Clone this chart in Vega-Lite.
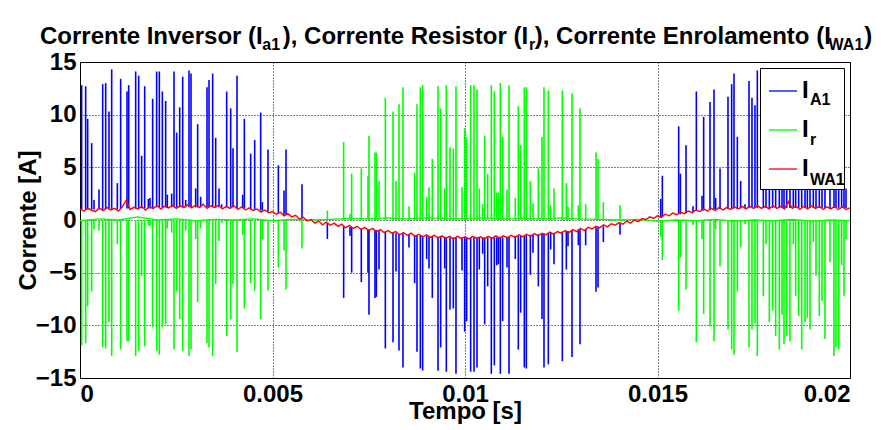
{
"$schema": "https://vega.github.io/schema/vega-lite/v6.json",
"width": 770, "height": 316,
"autosize": "none",
"padding": {"left": 80, "top": 62, "right": 36, "bottom": 52},
"background": "white",
"config": {
  "font": "Liberation Sans",
  "view": {"stroke": "#000", "strokeWidth": 1},
  "axis": {"labelFont": "Liberation Sans", "labelFontSize": 24, "labelFontWeight": "bold", "labelColor": "#000", "titleFont": "Liberation Sans", "titleFontSize": 24, "titleFontWeight": "bold", "titleColor": "#000", "domain": false, "ticks": false, "grid": true, "gridColor": "#000", "gridDash": [1, 2], "gridOpacity": 1}
},
"title": {
  "text": "Corrente Inversor (I\u00a0\u00a0\u00a0), Corrente Resistor (I\u00a0), Corrente Enrolamento (I\u00a0\u00a0\u00a0\u00a0\u00a0)",
  "subtitle": "\u200b\u00a0\u00a0\u00a0\u00a0\u00a0\u00a0\u00a0\u00a0\u00a0\u00a0\u00a0\u00a0\u00a0\u00a0\u00a0\u00a0\u00a0\u00a0\u00a0\u00a0\u00a0\u00a0\u00a0\u00a0\u00a0\u00a0\u00a0\u00a0\u00a0\u00a0\u00a0\u00a0\u00a0\u00a0\u00a0\u00a0\u00a0\u00a0\u00a0\u00a0\u00a0\u00a0\u00a0\u00a0\u00a0\u00a0\u00a0\u00a0\u00a0\u00a0a1\u00a0\u00a0\u00a0\u00a0\u00a0\u00a0\u00a0\u00a0\u00a0\u00a0\u00a0\u00a0\u00a0\u00a0\u00a0\u00a0\u00a0\u00a0\u00a0\u00a0\u00a0\u00a0\u00a0\u00a0\u00a0\u00a0\u00a0\u00a0\u00a0\u00a0\u00a0\u00a0\u00a0\u00a0\u00a0\u00a0\u00a0\u00a0\u00a0\u00a0\u00a0\u00a0\u00a0\u00a0\u00a0\u00a0\u00a0\u00a0\u00a0\u00a0\u00a0\u00a0\u00a0\u00a0\u00a0\u00a0r\u00a0\u00a0\u00a0\u00a0\u00a0\u00a0\u00a0\u00a0\u00a0\u00a0\u00a0\u00a0\u00a0\u00a0\u00a0\u00a0\u00a0\u00a0\u00a0\u00a0\u00a0\u00a0\u00a0\u00a0\u00a0\u00a0\u00a0\u00a0\u00a0\u00a0\u00a0\u00a0\u00a0\u00a0\u00a0\u00a0\u00a0\u00a0\u00a0\u00a0\u00a0\u00a0\u00a0\u00a0\u00a0\u00a0\u00a0\u00a0\u00a0\u00a0\u00a0\u00a0\u00a0\u00a0\u00a0\u00a0\u00a0\u00a0\u00a0\u00a0\u00a0\u00a0\u00a0\u00a0\u00a0\u00a0WA1",
  "anchor": "start", "frame": "group", "dx": -40, "offset": -3,
  "font": "Liberation Sans", "fontSize": 24, "fontWeight": "bold", "color": "#000",
  "subtitleFont": "Liberation Sans", "subtitleFontSize": 16, "subtitleFontWeight": "bold", "subtitleColor": "#000",
  "subtitlePadding": -12
},
"datasets": {
"spk": [
{"t":0.000043,"s":"A1","v":12.8,"b":1.0},{"t":0.000147,"s":"A1","v":12.7,"b":1.0},{"t":0.000199,"s":"A1","v":9.6,"b":1.0},{"t":0.000303,"s":"A1","v":7.3,"b":1.0},{"t":0.000364,"s":"A1","v":1.9,"b":1.0},{"t":0.000494,"s":"A1","v":2.9,"b":1.0},{"t":0.000589,"s":"A1","v":12.9,"b":1.0},{"t":0.000667,"s":"A1","v":13.0,"b":1.0},{"t":0.000753,"s":"A1","v":10.3,"b":1.0},{"t":0.000823,"s":"A1","v":14.3,"b":1.0},{"t":0.000970,"s":"A1","v":3.5,"b":1.0},{"t":0.001056,"s":"A1","v":13.4,"b":1.1},{"t":0.001221,"s":"A1","v":12.2,"b":1.1},{"t":0.001264,"s":"A1","v":12.8,"b":1.1},{"t":0.001446,"s":"A1","v":14.1,"b":1.1},{"t":0.001524,"s":"A1","v":13.7,"b":1.1},{"t":0.001602,"s":"A1","v":6.1,"b":1.1},{"t":0.001680,"s":"A1","v":12.7,"b":1.1},{"t":0.001775,"s":"A1","v":2.0,"b":1.1},{"t":0.001818,"s":"A1","v":2.1,"b":1.1},{"t":0.001887,"s":"A1","v":11.5,"b":1.1},{"t":0.001991,"s":"A1","v":14.1,"b":1.2},{"t":0.002061,"s":"A1","v":14.1,"b":1.2},{"t":0.002139,"s":"A1","v":12.2,"b":1.2},{"t":0.002225,"s":"A1","v":11.3,"b":1.2},{"t":0.002268,"s":"A1","v":2.4,"b":1.2},{"t":0.002381,"s":"A1","v":2.5,"b":1.2},{"t":0.002442,"s":"A1","v":14.1,"b":1.2},{"t":0.002511,"s":"A1","v":8.3,"b":1.2},{"t":0.002589,"s":"A1","v":10.7,"b":1.2},{"t":0.002667,"s":"A1","v":13.6,"b":1.2},{"t":0.002745,"s":"A1","v":1.9,"b":1.2},{"t":0.002831,"s":"A1","v":14.2,"b":1.2},{"t":0.002883,"s":"A1","v":13.9,"b":1.2},{"t":0.003004,"s":"A1","v":3.0,"b":1.2},{"t":0.003056,"s":"A1","v":9.1,"b":1.2},{"t":0.003134,"s":"A1","v":2.2,"b":1.2},{"t":0.003299,"s":"A1","v":12.6,"b":1.2},{"t":0.003351,"s":"A1","v":13.3,"b":1.2},{"t":0.003446,"s":"A1","v":13.9,"b":1.2},{"t":0.003524,"s":"A1","v":7.8,"b":1.2},{"t":0.003611,"s":"A1","v":3.0,"b":1.2},{"t":0.003680,"s":"A1","v":1.5,"b":1.2},{"t":0.003810,"s":"A1","v":12.2,"b":1.2},{"t":0.003914,"s":"A1","v":10.6,"b":1.2},{"t":0.003974,"s":"A1","v":6.8,"b":1.2},{"t":0.004078,"s":"A1","v":13.7,"b":1.1},{"t":0.004225,"s":"A1","v":2.4,"b":1.1},{"t":0.004269,"s":"A1","v":9.6,"b":1.1},{"t":0.004433,"s":"A1","v":6.3,"b":1.0},{"t":0.004537,"s":"A1","v":7.6,"b":1.0},{"t":0.004693,"s":"A1","v":10.2,"b":0.9},{"t":0.004736,"s":"A1","v":1.7,"b":0.9},{"t":0.004883,"s":"A1","v":6.7,"b":0.8},{"t":0.005152,"s":"A1","v":5.2,"b":0.6},{"t":0.005299,"s":"A1","v":2.8,"b":0.5},{"t":0.005351,"s":"A1","v":6.7,"b":0.5},{"t":0.005766,"s":"A1","v":3.4,"b":0.15},
{"t":0.006425,"s":"A1","v":-1.8,"b":-0.3},{"t":0.006848,"s":"A1","v":-7.4,"b":-0.6},{"t":0.007013,"s":"A1","v":-1.5,"b":-0.65},{"t":0.007056,"s":"A1","v":-5.0,"b":-0.65},{"t":0.007307,"s":"A1","v":-5.9,"b":-0.8},{"t":0.007480,"s":"A1","v":-5.0,"b":-0.9},{"t":0.007506,"s":"A1","v":-9.0,"b":-0.9},{"t":0.007662,"s":"A1","v":-7.4,"b":-0.95},{"t":0.007697,"s":"A1","v":-7.3,"b":-0.95},{"t":0.007766,"s":"A1","v":-4.7,"b":-1.0},{"t":0.007931,"s":"A1","v":-12.2,"b":-1.1},{"t":0.008130,"s":"A1","v":-11.6,"b":-1.2},{"t":0.008208,"s":"A1","v":-4.9,"b":-1.25},{"t":0.008285,"s":"A1","v":-12.4,"b":-1.3},{"t":0.008389,"s":"A1","v":-14.0,"b":-1.3},{"t":0.008545,"s":"A1","v":-2.6,"b":-1.35},{"t":0.008692,"s":"A1","v":-6.0,"b":-1.45},{"t":0.008753,"s":"A1","v":-12.5,"b":-1.45},{"t":0.008840,"s":"A1","v":-14.1,"b":-1.5},{"t":0.008900,"s":"A1","v":-14.3,"b":-1.5},{"t":0.009004,"s":"A1","v":-3.7,"b":-1.5},{"t":0.009065,"s":"A1","v":-4.6,"b":-1.55},{"t":0.009151,"s":"A1","v":-7.4,"b":-1.55},{"t":0.009299,"s":"A1","v":-14.3,"b":-1.6},{"t":0.009368,"s":"A1","v":-12.1,"b":-1.6},{"t":0.009472,"s":"A1","v":-4.6,"b":-1.6},{"t":0.009515,"s":"A1","v":-14.4,"b":-1.65},{"t":0.009610,"s":"A1","v":-8.5,"b":-1.65},{"t":0.009697,"s":"A1","v":-8.4,"b":-1.65},{"t":0.009766,"s":"A1","v":-14.6,"b":-1.65},{"t":0.009922,"s":"A1","v":-4.8,"b":-1.65},{"t":0.009991,"s":"A1","v":-10.6,"b":-1.65},{"t":0.010043,"s":"A1","v":-9.6,"b":-1.65},{"t":0.010147,"s":"A1","v":-14.4,"b":-1.65},{"t":0.010234,"s":"A1","v":-14.4,"b":-1.65},{"t":0.010312,"s":"A1","v":-14.0,"b":-1.65},{"t":0.010372,"s":"A1","v":-4.7,"b":-1.65},{"t":0.010459,"s":"A1","v":-3.2,"b":-1.65},{"t":0.010511,"s":"A1","v":-9.9,"b":-1.65},{"t":0.010589,"s":"A1","v":-6.3,"b":-1.65},{"t":0.010684,"s":"A1","v":-14.6,"b":-1.65},{"t":0.010762,"s":"A1","v":-13.8,"b":-1.65},{"t":0.010823,"s":"A1","v":-4.3,"b":-1.65},{"t":0.010866,"s":"A1","v":-4.2,"b":-1.65},{"t":0.010918,"s":"A1","v":-14.6,"b":-1.65},{"t":0.010978,"s":"A1","v":-9.6,"b":-1.65},{"t":0.011091,"s":"A1","v":-4.5,"b":-1.6},{"t":0.011143,"s":"A1","v":-14.6,"b":-1.6},{"t":0.011307,"s":"A1","v":-3.7,"b":-1.5},{"t":0.011385,"s":"A1","v":-12.3,"b":-1.5},{"t":0.011446,"s":"A1","v":-8.8,"b":-1.5},{"t":0.011541,"s":"A1","v":-14.0,"b":-1.45},{"t":0.011593,"s":"A1","v":-14.1,"b":-1.45},{"t":0.011697,"s":"A1","v":-5.2,"b":-1.4},{"t":0.011766,"s":"A1","v":-3.1,"b":-1.4},{"t":0.011905,"s":"A1","v":-6.3,"b":-1.35},{"t":0.012000,"s":"A1","v":-9.4,"b":-1.3},{"t":0.012052,"s":"A1","v":-14.0,"b":-1.3},{"t":0.012165,"s":"A1","v":-13.7,"b":-1.25},{"t":0.012225,"s":"A1","v":-2.8,"b":-1.2},{"t":0.012312,"s":"A1","v":-4.2,"b":-1.2},{"t":0.012528,"s":"A1","v":-13.4,"b":-1.1},{"t":0.012632,"s":"A1","v":-4.7,"b":-1.05},{"t":0.012675,"s":"A1","v":-2.5,"b":-1.05},{"t":0.012779,"s":"A1","v":-13.0,"b":-1.0},{"t":0.012944,"s":"A1","v":-2.4,"b":-0.9},{"t":0.012987,"s":"A1","v":-11.8,"b":-0.9},{"t":0.013134,"s":"A1","v":-2.4,"b":-0.85},{"t":0.013403,"s":"A1","v":-6.8,"b":-0.7},{"t":0.013455,"s":"A1","v":-6.4,"b":-0.65},{"t":0.013594,"s":"A1","v":-2.1,"b":-0.6},{"t":0.014026,"s":"A1","v":-1.4,"b":-0.3},
{"t":0.015083,"s":"A1","v":2.0,"b":0.25},{"t":0.015126,"s":"A1","v":4.2,"b":0.3},{"t":0.015550,"s":"A1","v":8.9,"b":0.55},{"t":0.015594,"s":"A1","v":4.4,"b":0.55},{"t":0.015741,"s":"A1","v":7.1,"b":0.65},{"t":0.015922,"s":"A1","v":1.3,"b":0.75},{"t":0.016009,"s":"A1","v":12.2,"b":0.85},{"t":0.016156,"s":"A1","v":2.3,"b":0.9},{"t":0.016199,"s":"A1","v":9.8,"b":0.9},{"t":0.016364,"s":"A1","v":11.2,"b":0.95},{"t":0.016468,"s":"A1","v":12.4,"b":1.0},{"t":0.016511,"s":"A1","v":2.1,"b":1.0},{"t":0.016624,"s":"A1","v":4.9,"b":1.05},{"t":0.016831,"s":"A1","v":11.7,"b":1.05},{"t":0.016926,"s":"A1","v":12.9,"b":1.1},{"t":0.016987,"s":"A1","v":13.9,"b":1.1},{"t":0.017074,"s":"A1","v":7.9,"b":1.1},{"t":0.017160,"s":"A1","v":3.7,"b":1.1},{"t":0.017273,"s":"A1","v":1.5,"b":1.15},{"t":0.017377,"s":"A1","v":13.2,"b":1.15},{"t":0.017454,"s":"A1","v":11.6,"b":1.15},{"t":0.017532,"s":"A1","v":10.9,"b":1.15},{"t":0.017593,"s":"A1","v":14.2,"b":1.15},{"t":0.017749,"s":"A1","v":8.4,"b":1.15},{"t":0.017818,"s":"A1","v":3.5,"b":1.15},{"t":0.017905,"s":"A1","v":10.9,"b":1.15},{"t":0.017991,"s":"A1","v":9.8,"b":1.15},{"t":0.018069,"s":"A1","v":12.2,"b":1.15},{"t":0.018164,"s":"A1","v":13.5,"b":1.15},{"t":0.018234,"s":"A1","v":10.2,"b":1.15},{"t":0.018286,"s":"A1","v":13.0,"b":1.15},{"t":0.018355,"s":"A1","v":12.2,"b":1.15},{"t":0.018441,"s":"A1","v":12.7,"b":1.15},{"t":0.018528,"s":"A1","v":3.5,"b":1.15},{"t":0.018589,"s":"A1","v":8.4,"b":1.15},{"t":0.018667,"s":"A1","v":10.3,"b":1.15},{"t":0.018745,"s":"A1","v":13.5,"b":1.15},{"t":0.018831,"s":"A1","v":10.9,"b":1.15},{"t":0.018892,"s":"A1","v":10.5,"b":1.15},{"t":0.018961,"s":"A1","v":11.6,"b":1.15},{"t":0.019048,"s":"A1","v":3.3,"b":1.15},{"t":0.019117,"s":"A1","v":6.5,"b":1.15},{"t":0.019203,"s":"A1","v":10.3,"b":1.15},{"t":0.019273,"s":"A1","v":8.9,"b":1.15},{"t":0.019350,"s":"A1","v":12.5,"b":1.15},{"t":0.019480,"s":"A1","v":5.2,"b":1.15},{"t":0.019584,"s":"A1","v":14.1,"b":1.15},{"t":0.019636,"s":"A1","v":13.3,"b":1.15},{"t":0.019706,"s":"A1","v":13.5,"b":1.15},{"t":0.019783,"s":"A1","v":5.5,"b":1.15},{"t":0.019844,"s":"A1","v":8.4,"b":1.15},{"t":0.019896,"s":"A1","v":3.0,"b":1.15},
{"t":0.000043,"s":"r","v":-11.9,"b":0},{"t":0.000147,"s":"r","v":-11.7,"b":0},{"t":0.000199,"s":"r","v":-8.2,"b":0},{"t":0.000303,"s":"r","v":-6.8,"b":0},{"t":0.000364,"s":"r","v":-0.9,"b":0},{"t":0.000494,"s":"r","v":-1.0,"b":0},{"t":0.000589,"s":"r","v":-12.1,"b":0},{"t":0.000667,"s":"r","v":-12.2,"b":0},{"t":0.000753,"s":"r","v":-9.7,"b":0},{"t":0.000823,"s":"r","v":-12.9,"b":0},{"t":0.000970,"s":"r","v":-2.3,"b":0},{"t":0.001056,"s":"r","v":-12.3,"b":0},{"t":0.001221,"s":"r","v":-11.5,"b":0},{"t":0.001264,"s":"r","v":-11.5,"b":0},{"t":0.001446,"s":"r","v":-12.9,"b":0},{"t":0.001524,"s":"r","v":-12.4,"b":0},{"t":0.001602,"s":"r","v":-5.3,"b":0},{"t":0.001680,"s":"r","v":-12.0,"b":0},{"t":0.001775,"s":"r","v":-0.5,"b":0},{"t":0.001818,"s":"r","v":-0.6,"b":0},{"t":0.001887,"s":"r","v":-10.2,"b":0},{"t":0.001991,"s":"r","v":-12.4,"b":0},{"t":0.002061,"s":"r","v":-12.8,"b":0},{"t":0.002139,"s":"r","v":-10.2,"b":0},{"t":0.002225,"s":"r","v":-9.9,"b":0},{"t":0.002268,"s":"r","v":-0.8,"b":0},{"t":0.002381,"s":"r","v":-1.2,"b":0},{"t":0.002442,"s":"r","v":-12.3,"b":0},{"t":0.002511,"s":"r","v":-6.8,"b":0},{"t":0.002589,"s":"r","v":-9.4,"b":0},{"t":0.002667,"s":"r","v":-12.4,"b":0},{"t":0.002745,"s":"r","v":-1.0,"b":0},{"t":0.002831,"s":"r","v":-12.9,"b":0},{"t":0.002883,"s":"r","v":-12.3,"b":0},{"t":0.003004,"s":"r","v":-1.8,"b":0},{"t":0.003056,"s":"r","v":-7.8,"b":0},{"t":0.003134,"s":"r","v":-0.8,"b":0},{"t":0.003299,"s":"r","v":-11.7,"b":0},{"t":0.003351,"s":"r","v":-12.1,"b":0},{"t":0.003446,"s":"r","v":-12.9,"b":0},{"t":0.003524,"s":"r","v":-6.1,"b":0},{"t":0.003611,"s":"r","v":-2.0,"b":0},{"t":0.003680,"s":"r","v":-0.3,"b":0},{"t":0.003810,"s":"r","v":-11.0,"b":0},{"t":0.003914,"s":"r","v":-9.4,"b":0},{"t":0.003974,"s":"r","v":-6.1,"b":0},{"t":0.004078,"s":"r","v":-12.5,"b":0},{"t":0.004225,"s":"r","v":-1.4,"b":0},{"t":0.004269,"s":"r","v":-8.4,"b":0},{"t":0.004433,"s":"r","v":-6.0,"b":0},{"t":0.004537,"s":"r","v":-6.7,"b":0},{"t":0.004693,"s":"r","v":-9.4,"b":0},{"t":0.004736,"s":"r","v":-1.8,"b":0},{"t":0.004883,"s":"r","v":-6.7,"b":0},{"t":0.005152,"s":"r","v":-4.5,"b":0},{"t":0.005299,"s":"r","v":-2.9,"b":0},{"t":0.005351,"s":"r","v":-6.6,"b":0},{"t":0.005766,"s":"r","v":-2.7,"b":0},
{"t":0.006425,"s":"r","v":0.9,"b":0},{"t":0.006848,"s":"r","v":7.4,"b":0},{"t":0.007013,"s":"r","v":0.6,"b":0},{"t":0.007056,"s":"r","v":4.4,"b":0},{"t":0.007307,"s":"r","v":4.9,"b":0},{"t":0.007480,"s":"r","v":4.2,"b":0},{"t":0.007506,"s":"r","v":8.0,"b":0},{"t":0.007662,"s":"r","v":6.4,"b":0},{"t":0.007697,"s":"r","v":6.4,"b":0},{"t":0.007766,"s":"r","v":3.7,"b":0},{"t":0.007931,"s":"r","v":11.6,"b":0},{"t":0.008130,"s":"r","v":10.3,"b":0},{"t":0.008208,"s":"r","v":3.7,"b":0},{"t":0.008285,"s":"r","v":11.0,"b":0},{"t":0.008389,"s":"r","v":12.6,"b":0},{"t":0.008545,"s":"r","v":1.3,"b":0},{"t":0.008692,"s":"r","v":4.5,"b":0},{"t":0.008753,"s":"r","v":11.0,"b":0},{"t":0.008840,"s":"r","v":12.6,"b":0},{"t":0.008900,"s":"r","v":12.8,"b":0},{"t":0.009004,"s":"r","v":2.2,"b":0},{"t":0.009065,"s":"r","v":3.1,"b":0},{"t":0.009151,"s":"r","v":5.8,"b":0},{"t":0.009299,"s":"r","v":12.7,"b":0},{"t":0.009368,"s":"r","v":10.6,"b":0},{"t":0.009472,"s":"r","v":3.0,"b":0},{"t":0.009515,"s":"r","v":12.8,"b":0},{"t":0.009610,"s":"r","v":6.9,"b":0},{"t":0.009697,"s":"r","v":6.8,"b":0},{"t":0.009766,"s":"r","v":12.7,"b":0},{"t":0.009922,"s":"r","v":3.1,"b":0},{"t":0.009991,"s":"r","v":8.7,"b":0},{"t":0.010043,"s":"r","v":7.8,"b":0},{"t":0.010147,"s":"r","v":12.8,"b":0},{"t":0.010234,"s":"r","v":12.8,"b":0},{"t":0.010312,"s":"r","v":12.4,"b":0},{"t":0.010372,"s":"r","v":3.0,"b":0},{"t":0.010459,"s":"r","v":1.5,"b":0},{"t":0.010511,"s":"r","v":8.0,"b":0},{"t":0.010589,"s":"r","v":4.4,"b":0},{"t":0.010684,"s":"r","v":12.8,"b":0},{"t":0.010762,"s":"r","v":12.2,"b":0},{"t":0.010823,"s":"r","v":2.6,"b":0},{"t":0.010866,"s":"r","v":2.6,"b":0},{"t":0.010918,"s":"r","v":13.0,"b":0},{"t":0.010978,"s":"r","v":7.9,"b":0},{"t":0.011091,"s":"r","v":2.9,"b":0},{"t":0.011143,"s":"r","v":12.8,"b":0},{"t":0.011307,"s":"r","v":2.1,"b":0},{"t":0.011385,"s":"r","v":10.8,"b":0},{"t":0.011446,"s":"r","v":7.1,"b":0},{"t":0.011541,"s":"r","v":12.6,"b":0},{"t":0.011593,"s":"r","v":12.6,"b":0},{"t":0.011697,"s":"r","v":3.7,"b":0},{"t":0.011766,"s":"r","v":1.6,"b":0},{"t":0.011905,"s":"r","v":4.9,"b":0},{"t":0.012000,"s":"r","v":7.9,"b":0},{"t":0.012052,"s":"r","v":12.6,"b":0},{"t":0.012165,"s":"r","v":12.3,"b":0},{"t":0.012225,"s":"r","v":1.4,"b":0},{"t":0.012312,"s":"r","v":3.0,"b":0},{"t":0.012528,"s":"r","v":12.3,"b":0},{"t":0.012632,"s":"r","v":3.5,"b":0},{"t":0.012675,"s":"r","v":1.3,"b":0},{"t":0.012779,"s":"r","v":12.0,"b":0},{"t":0.012944,"s":"r","v":1.4,"b":0},{"t":0.012987,"s":"r","v":10.6,"b":0},{"t":0.013134,"s":"r","v":1.5,"b":0},{"t":0.013403,"s":"r","v":6.4,"b":0},{"t":0.013455,"s":"r","v":5.8,"b":0},{"t":0.013594,"s":"r","v":1.7,"b":0},{"t":0.014026,"s":"r","v":1.4,"b":0},
{"t":0.015083,"s":"r","v":-1.6,"b":0},{"t":0.015126,"s":"r","v":-3.8,"b":0},{"t":0.015550,"s":"r","v":-8.6,"b":0},{"t":0.015594,"s":"r","v":-3.6,"b":0},{"t":0.015741,"s":"r","v":-6.6,"b":0},{"t":0.015922,"s":"r","v":-0.5,"b":0},{"t":0.016009,"s":"r","v":-11.6,"b":0},{"t":0.016156,"s":"r","v":-1.8,"b":0},{"t":0.016199,"s":"r","v":-8.9,"b":0},{"t":0.016364,"s":"r","v":-10.1,"b":0},{"t":0.016468,"s":"r","v":-11.5,"b":0},{"t":0.016511,"s":"r","v":-0.9,"b":0},{"t":0.016624,"s":"r","v":-4.4,"b":0},{"t":0.016831,"s":"r","v":-10.4,"b":0},{"t":0.016926,"s":"r","v":-12.3,"b":0},{"t":0.016987,"s":"r","v":-12.8,"b":0},{"t":0.017074,"s":"r","v":-6.8,"b":0},{"t":0.017160,"s":"r","v":-2.6,"b":0},{"t":0.017273,"s":"r","v":-0.4,"b":0},{"t":0.017377,"s":"r","v":-12.1,"b":0},{"t":0.017454,"s":"r","v":-10.4,"b":0},{"t":0.017532,"s":"r","v":-9.8,"b":0},{"t":0.017593,"s":"r","v":-12.9,"b":0},{"t":0.017749,"s":"r","v":-7.2,"b":0},{"t":0.017818,"s":"r","v":-2.3,"b":0},{"t":0.017905,"s":"r","v":-9.7,"b":0},{"t":0.017991,"s":"r","v":-8.6,"b":0},{"t":0.018069,"s":"r","v":-11.0,"b":0},{"t":0.018164,"s":"r","v":-12.3,"b":0},{"t":0.018234,"s":"r","v":-9.0,"b":0},{"t":0.018286,"s":"r","v":-11.8,"b":0},{"t":0.018355,"s":"r","v":-11.0,"b":0},{"t":0.018441,"s":"r","v":-11.5,"b":0},{"t":0.018528,"s":"r","v":-2.3,"b":0},{"t":0.018589,"s":"r","v":-7.2,"b":0},{"t":0.018667,"s":"r","v":-9.1,"b":0},{"t":0.018745,"s":"r","v":-12.3,"b":0},{"t":0.018831,"s":"r","v":-9.7,"b":0},{"t":0.018892,"s":"r","v":-9.3,"b":0},{"t":0.018961,"s":"r","v":-10.4,"b":0},{"t":0.019048,"s":"r","v":-2.1,"b":0},{"t":0.019117,"s":"r","v":-5.3,"b":0},{"t":0.019203,"s":"r","v":-9.1,"b":0},{"t":0.019273,"s":"r","v":-7.7,"b":0},{"t":0.019350,"s":"r","v":-11.3,"b":0},{"t":0.019480,"s":"r","v":-4.0,"b":0},{"t":0.019584,"s":"r","v":-12.9,"b":0},{"t":0.019636,"s":"r","v":-12.1,"b":0},{"t":0.019706,"s":"r","v":-12.3,"b":0},{"t":0.019783,"s":"r","v":-4.3,"b":0},{"t":0.019844,"s":"r","v":-7.2,"b":0},{"t":0.019896,"s":"r","v":-1.8,"b":0}
],
"gbase": [
{"t":0,"v":-0.05},{"t":0.0005,"v":0.1},{"t":0.001,"v":0.0},{"t":0.0015,"v":0.3},{"t":0.002,"v":0.0},{"t":0.0025,"v":0.1},{"t":0.003,"v":-0.05},{"t":0.0035,"v":0.05},{"t":0.004,"v":0.0},{"t":0.0045,"v":0.1},{"t":0.005,"v":-0.05},{"t":0.0055,"v":0.05},{"t":0.006,"v":0.0},{"t":0.0065,"v":0.05},{"t":0.007,"v":0.15},{"t":0.0075,"v":0.1},{"t":0.008,"v":0.2},{"t":0.0085,"v":0.1},{"t":0.009,"v":0.2},{"t":0.0095,"v":0.15},{"t":0.01,"v":0.1},{"t":0.0105,"v":0.2},{"t":0.011,"v":0.1},{"t":0.0115,"v":0.15},{"t":0.012,"v":0.1},{"t":0.0125,"v":0.2},{"t":0.013,"v":0.1},{"t":0.0135,"v":0.05},{"t":0.014,"v":0.0},{"t":0.0145,"v":0.05},{"t":0.015,"v":-0.1},{"t":0.0155,"v":0.0},{"t":0.016,"v":-0.05},{"t":0.0165,"v":0.05},{"t":0.017,"v":-0.1},{"t":0.0175,"v":0.0},{"t":0.018,"v":-0.05},{"t":0.0185,"v":0.05},{"t":0.019,"v":-0.1},{"t":0.0195,"v":0.0},{"t":0.02,"v":-0.05}
],
"red": [
{"t":0.0000,"v":1.05},{"t":0.0001,"v":0.85},{"t":0.0002,"v":1.1},{"t":0.0003,"v":0.95},{"t":0.0004,"v":0.8},{"t":0.0005,"v":1.15},{"t":0.0006,"v":0.9},{"t":0.0007,"v":1.2},{"t":0.0008,"v":0.95},{"t":0.0009,"v":1.1},
{"t":0.0010,"v":0.85},{"t":0.0011,"v":1.25},{"t":0.0012,"v":1.9},{"t":0.0013,"v":1.0},{"t":0.0014,"v":1.2},{"t":0.0015,"v":1.05},{"t":0.0016,"v":1.3},{"t":0.0017,"v":0.95},{"t":0.0018,"v":1.25},{"t":0.0019,"v":1.1},
{"t":0.0020,"v":1.35},{"t":0.0021,"v":1.05},{"t":0.0022,"v":1.3},{"t":0.0023,"v":1.15},{"t":0.0024,"v":1.4},{"t":0.0025,"v":1.1},{"t":0.0026,"v":1.35},{"t":0.0027,"v":1.2},{"t":0.0028,"v":1.45},{"t":0.0029,"v":1.15},
{"t":0.0030,"v":1.4},{"t":0.0031,"v":1.2},{"t":0.0032,"v":1.5},{"t":0.0033,"v":1.1},{"t":0.0034,"v":1.35},{"t":0.0035,"v":1.2},{"t":0.0036,"v":1.4},{"t":0.0037,"v":1.05},{"t":0.0038,"v":1.3},{"t":0.0039,"v":1.1},
{"t":0.0040,"v":1.35},{"t":0.0041,"v":1.0},{"t":0.0042,"v":1.25},{"t":0.0043,"v":0.95},{"t":0.0044,"v":1.15},{"t":0.0045,"v":0.9},{"t":0.0046,"v":1.05},{"t":0.0047,"v":0.75},{"t":0.0048,"v":0.95},{"t":0.0049,"v":0.7},
{"t":0.0050,"v":0.8},{"t":0.0051,"v":0.55},{"t":0.0052,"v":0.75},{"t":0.0053,"v":0.4},{"t":0.0054,"v":0.6},{"t":0.0055,"v":0.3},{"t":0.0056,"v":0.45},{"t":0.0057,"v":0.1},{"t":0.0058,"v":0.25},{"t":0.0059,"v":-0.1},
{"t":0.0060,"v":0.05},{"t":0.0061,"v":-0.3},{"t":0.0062,"v":-0.1},{"t":0.0063,"v":-0.45},{"t":0.0064,"v":-0.2},{"t":0.0065,"v":-0.5},{"t":0.0066,"v":-0.3},{"t":0.0067,"v":-0.6},{"t":0.0068,"v":-0.4},{"t":0.0069,"v":-0.75},
{"t":0.0070,"v":-0.5},{"t":0.0071,"v":-0.8},{"t":0.0072,"v":-0.6},{"t":0.0073,"v":-0.9},{"t":0.0074,"v":-0.7},{"t":0.0075,"v":-1.0},{"t":0.0076,"v":-0.8},{"t":0.0077,"v":-1.1},{"t":0.0078,"v":-0.9},{"t":0.0079,"v":-1.2},
{"t":0.0080,"v":-1.0},{"t":0.0081,"v":-1.25},{"t":0.0082,"v":-1.1},{"t":0.0083,"v":-1.4},{"t":0.0084,"v":-1.2},{"t":0.0085,"v":-1.45},{"t":0.0086,"v":-1.25},{"t":0.0087,"v":-1.55},{"t":0.0088,"v":-1.35},{"t":0.0089,"v":-1.6},
{"t":0.0090,"v":-1.4},{"t":0.0091,"v":-1.65},{"t":0.0092,"v":-1.45},{"t":0.0093,"v":-1.7},{"t":0.0094,"v":-1.5},{"t":0.0095,"v":-1.75},{"t":0.0096,"v":-1.55},{"t":0.0097,"v":-1.8},{"t":0.0098,"v":-1.55},{"t":0.0099,"v":-1.75},
{"t":0.0100,"v":-1.6},{"t":0.0101,"v":-1.8},{"t":0.0102,"v":-1.55},{"t":0.0103,"v":-1.75},{"t":0.0104,"v":-1.6},{"t":0.0105,"v":-1.8},{"t":0.0106,"v":-1.55},{"t":0.0107,"v":-1.75},{"t":0.0108,"v":-1.5},{"t":0.0109,"v":-1.7},
{"t":0.0110,"v":-1.5},{"t":0.0111,"v":-1.7},{"t":0.0112,"v":-1.45},{"t":0.0113,"v":-1.65},{"t":0.0114,"v":-1.4},{"t":0.0115,"v":-1.6},{"t":0.0116,"v":-1.35},{"t":0.0117,"v":-1.55},{"t":0.0118,"v":-1.3},{"t":0.0119,"v":-1.5},
{"t":0.0120,"v":-1.25},{"t":0.0121,"v":-1.4},{"t":0.0122,"v":-1.15},{"t":0.0123,"v":-1.35},{"t":0.0124,"v":-1.1},{"t":0.0125,"v":-1.25},{"t":0.0126,"v":-1.0},{"t":0.0127,"v":-1.2},{"t":0.0128,"v":-0.9},{"t":0.0129,"v":-1.1},
{"t":0.0130,"v":-0.8},{"t":0.0131,"v":-1.0},{"t":0.0132,"v":-0.7},{"t":0.0133,"v":-0.85},{"t":0.0134,"v":-0.6},{"t":0.0135,"v":-0.75},{"t":0.0136,"v":-0.45},{"t":0.0137,"v":-0.65},{"t":0.0138,"v":-0.35},{"t":0.0139,"v":-0.5},
{"t":0.0140,"v":-0.25},{"t":0.0141,"v":-0.4},{"t":0.0142,"v":-0.1},{"t":0.0143,"v":-0.3},{"t":0.0144,"v":0.0},{"t":0.0145,"v":-0.15},{"t":0.0146,"v":0.15},{"t":0.0147,"v":0.05},{"t":0.0148,"v":0.3},{"t":0.0149,"v":0.15},
{"t":0.0150,"v":0.4},{"t":0.0151,"v":0.25},{"t":0.0152,"v":0.55},{"t":0.0153,"v":0.4},{"t":0.0154,"v":0.65},{"t":0.0155,"v":0.5},{"t":0.0156,"v":0.75},{"t":0.0157,"v":0.6},{"t":0.0158,"v":0.85},{"t":0.0159,"v":0.7},
{"t":0.0160,"v":0.95},{"t":0.0161,"v":0.8},{"t":0.0162,"v":1.05},{"t":0.0163,"v":0.85},{"t":0.0164,"v":1.1},{"t":0.0165,"v":0.9},{"t":0.0166,"v":1.2},{"t":0.0167,"v":0.95},{"t":0.0168,"v":1.2},{"t":0.0169,"v":1.0},
{"t":0.0170,"v":1.25},{"t":0.0171,"v":1.05},{"t":0.0172,"v":1.3},{"t":0.0173,"v":1.05},{"t":0.0174,"v":1.3},{"t":0.0175,"v":1.1},{"t":0.0176,"v":1.35},{"t":0.0177,"v":1.1},{"t":0.0178,"v":1.3},{"t":0.0179,"v":1.05},
{"t":0.0180,"v":1.35},{"t":0.0181,"v":1.1},{"t":0.0182,"v":1.3},{"t":0.0183,"v":1.05},{"t":0.0184,"v":1.75},{"t":0.0185,"v":1.1},{"t":0.0186,"v":1.3},{"t":0.0187,"v":1.0},{"t":0.0188,"v":1.3},{"t":0.0189,"v":1.05},
{"t":0.0190,"v":1.35},{"t":0.0191,"v":1.1},{"t":0.0192,"v":1.3},{"t":0.0193,"v":1.0},{"t":0.0194,"v":1.25},{"t":0.0195,"v":1.05},{"t":0.0196,"v":1.3},{"t":0.0197,"v":1.0},{"t":0.0198,"v":1.25},{"t":0.0199,"v":1.0},
{"t":0.0200,"v":1.15}
]
},
"encoding": {
  "x": {"field": "t", "type": "quantitative", "scale": {"domain": [0, 0.02], "nice": false}, "axis": {"title": "Tempo [s]", "values": [0, 0.005, 0.01, 0.015, 0.02], "format": "~g", "labelPadding": 4, "titlePadding": -7}},
  "y": {"field": "v", "type": "quantitative", "scale": {"domain": [-15, 15], "nice": false}, "axis": {"title": "Corrente [A]", "values": [-15, -10, -5, 0, 5, 10, 15], "labelPadding": 4, "titlePadding": -5}}
},
"layer": [
  {
    "data": {"name": "spk"},
    "mark": {"type": "rule"},
    "encoding": {
      "y2": {"field": "b"},
      "color": {"field": "s", "type": "nominal", "scale": {"domain": ["A1", "r", "WA1"], "range": ["#0000ff", "#00ff00", "#ff0000"]},
        "legend": {"title": null, "orient": "top-right", "offset": 6, "symbolType": "stroke", "symbolSize": 784, "symbolStrokeWidth": 1.3, "labelExpr": "'I\u00a0\u00a0\u00a0\u00a0\u200b'", "labelFont": "Liberation Sans", "labelFontSize": 24, "labelFontWeight": "bold", "labelColor": "#000", "strokeColor": "#000", "fillColor": "#fff", "padding": 8, "rowPadding": 12, "labelOffset": 4}},
      "strokeWidth": {"field": "s", "type": "nominal", "scale": {"domain": ["A1", "r", "WA1"], "range": [1.6, 1.6, 1.6]},
        "legend": {"title": null, "orient": "none", "legendX": 714, "legendY": 30, "symbolSize": 0, "symbolOpacity": 0, "symbolStrokeWidth": 0, "symbolStrokeColor": "transparent", "labelFont": "Liberation Sans", "labelFontSize": 16, "labelFontWeight": "bold", "labelColor": "#000", "rowPadding": 24, "labelOffset": 0, "padding": 0}}
    }
  },
  {
    "data": {"name": "gbase"},
    "mark": {"type": "line", "color": "#00ff00", "strokeWidth": 1.3},
    "encoding": {}
  },
  {
    "data": {"name": "red"},
    "mark": {"type": "line", "color": "#ff0000", "strokeWidth": 1.4},
    "encoding": {}
  }
]
}
